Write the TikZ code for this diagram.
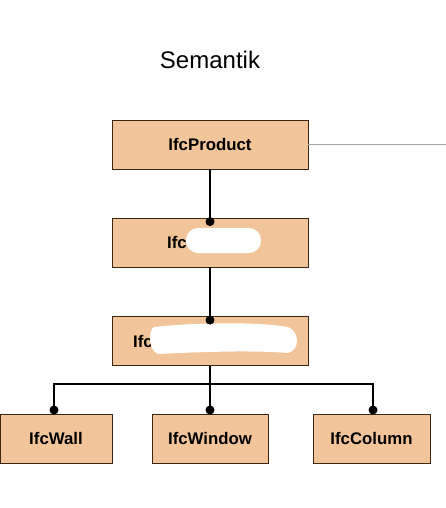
\documentclass[tikz,border=0pt]{standalone}
\usepackage{fontspec}
\setmainfont{Liberation Sans}
\begin{document}
\begin{tikzpicture}[x=1pt,y=-1pt,
  cls/.style={draw=black!70!brown, fill=boxfill, line width=0.8pt, minimum width=196pt, minimum height=49pt, inner sep=0pt, font=\fontsize{16.8}{18}\selectfont\bfseries},
  small/.style={cls, minimum width=112pt},
  conn/.style={line width=1.2pt, black},
  dot/.style={circle, fill=black, inner sep=0pt, minimum size=9pt},
  blob/.style={fill=white, rounded corners=12pt}]
\definecolor{boxfill}{HTML}{F2C499}
\useasboundingbox (0,0) rectangle (446,508);
\node[font=\fontsize{24}{27}\selectfont] (title) at (210,60) {Semantik};
\node[cls] (prod) at (210,144.5) {IfcProduct};
\node[cls] (b2) at (210,242.5) {};
\node[cls] (b3) at (210,341) {};
\node[small] (wall) at (56,438.5) {IfcWall};
\node[cls, minimum width=116pt] (win) at (210,438.5) {IfcWindow};
\node[cls, minimum width=117pt] (col) at (371.5,438.5) {IfcColumn};
% partial labels with white blobs
\node[font=\fontsize{16.8}{18}\selectfont\bfseries, anchor=east, inner sep=0pt] (l2) at (187,242.5) {Ifc};
\node[font=\fontsize{16.8}{18}\selectfont\bfseries, anchor=east, inner sep=0pt] (l3) at (153,341) {Ifc};
\fill[blob] (186,228) rectangle (261,253);
\fill[white] (154,327) .. controls (200,322) and (260,322) .. (288,327) .. controls (300,332) and (300,350) .. (288,353) .. controls (250,350) and (200,352) .. (158,354) .. controls (148,350) and (148,330) .. (154,327) -- cycle;
% gray line
\coordinate (gr) at (446,144.5);
\draw[gray!70, line width=0.8pt] (prod.east) -- (gr);
% connectors
\draw[conn] (prod.south) -- (b2.north);
\node[dot] (d2) at ([yshift=-4pt]b2.north) {};
\draw[conn] (b2.south) -- (b3.north);
\node[dot] (d3) at ([yshift=-4pt]b3.north) {};
\coordinate (bar) at (210,384);
\draw[conn] (b3.south) -- (win.north);
\coordinate (wtop) at (54,414);
\coordinate (ctop) at (373,414);
\draw[conn] (wtop) |- (bar) -| (ctop);
\node[dot] (dw) at (54,410) {};
\node[dot] (dwin) at (210,410) {};
\node[dot] (dc) at (373,410) {};
\end{tikzpicture}
\end{document}
